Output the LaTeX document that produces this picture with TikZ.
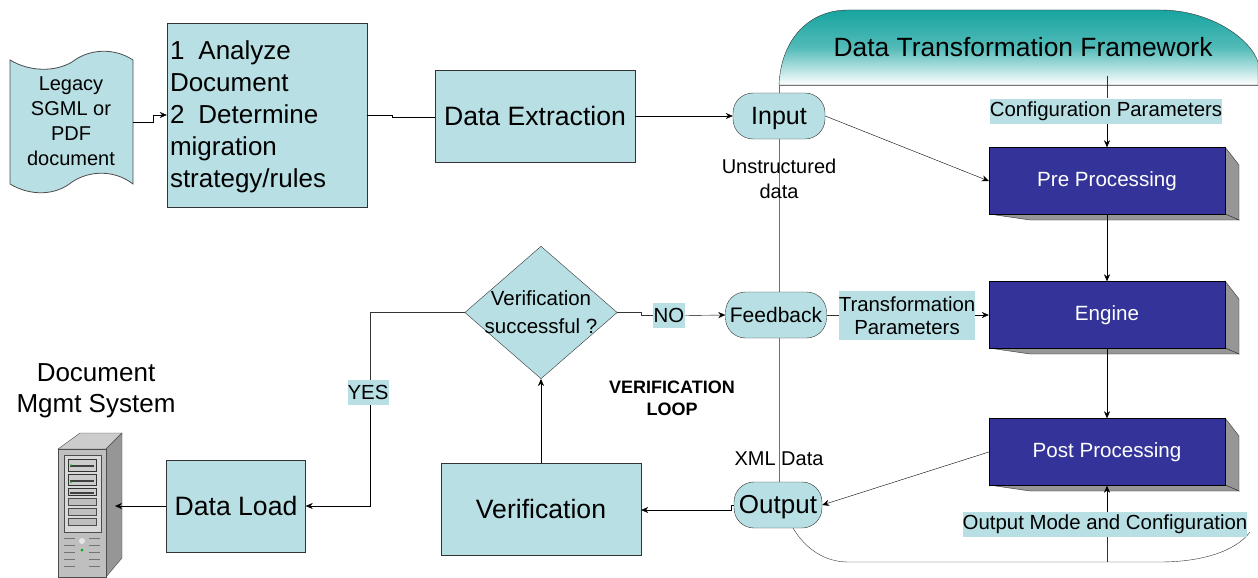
\documentclass[tikz,border=0pt]{standalone}
\usepackage{fontspec}
\setmainfont{Liberation Sans}
\usepackage{xcolor}
\definecolor{paleteal}{RGB}{184,224,228}
\definecolor{deepteal}{RGB}{24,164,160}
\definecolor{enginblue}{RGB}{51,51,153}
\definecolor{sidegray}{RGB}{150,150,150}
\definecolor{railgray}{RGB}{110,110,110}
\usetikzlibrary{shapes.geometric,arrows.meta,calc}

\begin{document}
\begin{tikzpicture}[
    x=1pt, y=-1pt,
    flowbox/.style={rectangle, draw=black!80, fill=paleteal, inner sep=0pt},
    portnode/.style={rectangle, rounded corners=20pt, draw=black!80, fill=paleteal, inner sep=0pt, minimum height=46pt},
    stagebox/.style={rectangle, draw=black, fill=enginblue, text=white, inner sep=0pt, minimum width=236pt, minimum height=67pt, font=\fontsize{20.6}{23}\selectfont},
    stageside/.style={draw=black!80, fill=sidegray},
    paramlabel/.style={fill=paleteal, inner sep=0pt, minimum height=25pt, font=\fontsize{20.4}{23}\selectfont, align=center},
    plainlabel/.style={inner sep=0pt, align=center, font=\fontsize{20}{25}\selectfont},
    arrow/.style={-{Stealth[length=7pt,width=6pt]}, black},
    rail/.style={draw=railgray, line width=0.9pt}
]
\useasboundingbox (0,0) rectangle (1258,578);

% Framework outline
\path[rail, line width=0.7pt] (779,85) -- (779,492);
\draw[black!80] (793,528) .. controls (806,550) and (826,562) .. (848,562) -- (1160,562) .. controls (1200,562) and (1235,552) .. (1250,532);
\draw[railgray, thick] (779,85) -- (1258,85);
\shade[top color=deepteal, bottom color=white, middle color=deepteal!75, draw=black!80]
    (779,85) .. controls (781,38) and (810,10) .. (848,10) -- (1160,10) .. controls (1210,10) and (1250,38) .. (1258,62) -- (1258,85) -- cycle;
\node[font=\fontsize{26.4}{30}\selectfont] (frametitle) at (1023,47) {Data Transformation Framework};

% Left column
\node[flowbox, minimum width=200pt, minimum height=184pt, align=left, text width=194pt, font=\fontsize{26}{32}\selectfont] (analyze) at (267,115)
    {\rule{0pt}{22pt}1\hspace{14pt}Analyze\\Document\\2\hspace{14pt}Determine\\migration\\strategy/rules};
\path[draw=black!70, fill=paleteal, line width=0.8pt]
    (10,60) .. controls (30,72) and (55,72) .. (72,62) .. controls (90,48) and (115,48) .. (133,60)
    -- (133,184) .. controls (115,170) and (90,170) .. (72,182) .. controls (55,196) and (30,196) .. (10,184) -- cycle;
\node[plainlabel] (legacy) at (71,121) {Legacy\\SGML or\\PDF\\document};
\coordinate (legacyout) at (133,122);

\node[flowbox, minimum width=200pt, minimum height=92pt, font=\fontsize{26.6}{30}\selectfont] (extract) at (535,116) {Data Extraction};
\node[portnode, minimum width=92pt, text height=22pt, text depth=5pt, font=\fontsize{25}{28}\selectfont] (input) at (779,116) {Input};
\node[portnode, minimum width=101pt, font=\fontsize{21}{24}\selectfont] (feedback) at (776,315) {Feedback};
\node[portnode, minimum width=88pt, text height=22pt, text depth=5pt, font=\fontsize{26}{29}\selectfont] (output) at (778,505) {Output};

% Stages
\foreach \name/\cy/\txt in {pre/181/Pre Processing, engine/315/Engine, post/452/Post Processing}{
  \path[stageside] (1225,\cy-34) -- (1239,\cy-16) -- (1239,\cy+39) -- (1225,\cy+33) -- cycle;
  \path[stageside] (989,\cy+33) -- (1225,\cy+33) -- (1239,\cy+39) -- (1030,\cy+39) -- cycle;
  \node[stagebox] (\name) at (1107,\cy) {\txt};
}

% Decision and lower row
\node[diamond, aspect=1.15, draw=black!80, fill=paleteal, inner sep=-2.3pt, minimum width=150pt, minimum height=131pt, align=center, font=\fontsize{20.5}{28}\selectfont] (verq) at (541,312.5) {Verification\\successful ?};
\node[flowbox, minimum width=200pt, minimum height=92pt, font=\fontsize{26.6}{30}\selectfont] (verify) at (541,509) {Verification};
\node[flowbox, minimum width=139pt, minimum height=92pt, font=\fontsize{26.6}{30}\selectfont] (load) at (236,506) {Data Load};
\node[plainlabel, font=\fontsize{26}{31}\selectfont] (dms) at (96,391) {Document\\Mgmt System};

% Server
\path[draw=black!70, fill=black!20] (58,449) -- (80,433) -- (122,433) -- (106,449) -- cycle;
\path[draw=black!70, fill=sidegray] (106,449) -- (122,433) -- (122,558) -- (106,577) -- cycle;
\node[rectangle, draw=black!70, fill=black!25, inner sep=0pt, minimum width=48pt, minimum height=128pt] (server) at (82,513) {};
\path[draw=black!70, fill=black!15] (64,455) rectangle (101,532);
\foreach \sy/\sh in {459/12,474/11,488/7}{
  \path[draw=black!80, fill=black!20] (68,\sy) rectangle (96,\sy+\sh);
  \fill[black!75] (70,\sy+\sh*0.5) rectangle (94,\sy+\sh*0.5+2);
}
\foreach \sy in {498,508,518}{
  \path[draw=black!70, fill=black!25] (68,\sy) rectangle (96,\sy+7);
}
\fill[green!80!black] (71,465) circle (1pt);
\fill[green!80!black] (71,482) circle (1pt);
\foreach \sy in {538,545,552,559,566}{
  \draw[black!55, line width=1pt] (64,\sy) -- (75,\sy);
  \draw[black!55, line width=1pt] (89,\sy) -- (100,\sy);
}
\fill[black!10] (82,541) circle (3pt);
\fill[green!70!black] (82,550) circle (1.5pt);
\coordinate (serverport) at (115,506);

% Floating labels
\node[plainlabel] (unstruct) at (779,179) {Unstructured\\data};
\node[plainlabel] (xmldata) at (779,459) {XML Data};
\node[plainlabel, font=\bfseries\fontsize{18}{22}\selectfont] (looplabel) at (672,398) {VERIFICATION\\LOOP};

% Arrows
\coordinate (cfgtop) at (1107,76);
\coordinate (modebot) at (1107,562);
\node[paramlabel] (config) at (1106,111) {Configuration Parameters};
\node[paramlabel] (mode) at (1105,524.5) {Output Mode and Configuration};
\node[paramlabel, minimum height=49pt] (tparams) at (907,315.5) {Transformation\\Parameters};
\node[paramlabel, minimum width=32pt] (nolabel) at (669,315.5) {NO};
\node[paramlabel, minimum width=41pt] (yeslabel) at (368,392.5) {YES};

\draw[black!80] (cfgtop) -- (config.north -| cfgtop);
\draw[arrow] (config.south -| cfgtop) -- (pre.north -| cfgtop);
\draw[arrow] (pre.south -| cfgtop) -- (engine.north -| cfgtop);
\draw[arrow] (engine.south -| cfgtop) -- (post.north -| cfgtop);
\draw[arrow] (mode.north -| cfgtop) -- (post.south -| cfgtop);
\draw[black!80] (modebot) -- (mode.south -| modebot);

\draw[arrow] (legacyout) -- (153,122) -- (153,115) -- (analyze.west |- 0,115);
\draw[black] (analyze.east) -- (392,115) -- (392,117) -- (extract.west |- 0,117);
\draw[arrow] (extract) -- (input);
\draw[arrow] (input.east) -- (pre.west);
\draw[arrow] (post.west) -- (output.east);
\draw[black!80] (verq.east) -- (641,312.5) -- (641,315.5) -- (nolabel.west);
\draw[arrow] (nolabel.east) -- (feedback.west);
\draw[black!80] (feedback.east) -- (tparams.west |- feedback.east);
\draw[arrow] (tparams.east |- feedback.east) -- (engine.west);
\draw[arrow] (output.west) -- (731,505) -- (731,510) -- (verify.east |- 0,510);
\draw[arrow] (verify) -- (verq);
\draw[black!80] (verq.west) -- (370,312.5) -- (yeslabel.north -| 370,0);
\draw[arrow] (yeslabel.south -| 370,0) -- (370,506) -- (load.east);
\draw[arrow] (load.west) -- (serverport);

\end{tikzpicture}
\end{document}
